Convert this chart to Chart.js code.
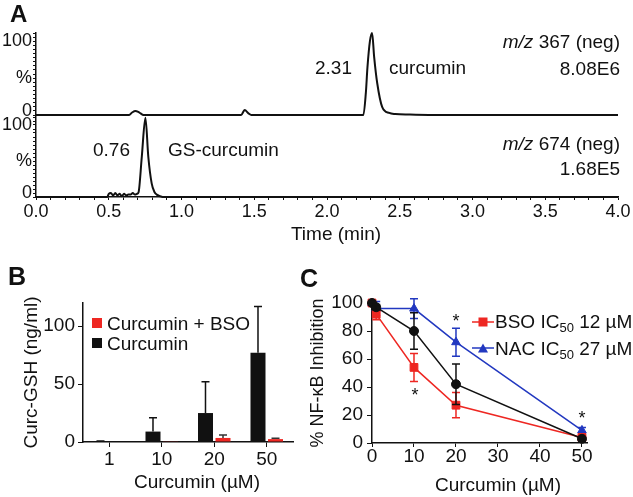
<!DOCTYPE html>
<html lang="en">
<head>
<meta charset="UTF-8">
<title>Curcumin / GS-curcumin</title>
<script src="https://cdn.jsdelivr.net/npm/chart.js"></script>
<style>
    body {
        margin: 0;
        background: #fff;
        font-family: "Liberation Sans", Arial, sans-serif;
        color: #111;
    }

    .fig {
        position: relative;
        width: 633px;
        height: 497px;
        overflow: hidden;
    }

    .fig canvas, .fig svg {
        position: absolute;
    }

    .t {
        position: absolute;
        font-size: 19px;
        line-height: 1;
        white-space: nowrap;
    }

    .c { transform: translateX(-50%); }
    .panel { font-weight: bold; font-size: 24px; }
    .sw { position: absolute; width: 10px; height: 10px; }
    .star { position: absolute; font-size: 18px; line-height: 1; transform: translateX(-50%); }
    sub { font-size: 13px; line-height: 0; vertical-align: -4px; }
</style>
</head>
<body>
<div class="fig">
    <canvas id="trace-top" width="633" height="120" style="left:0;top:0"></canvas>
    <canvas id="trace-bot" width="633" height="130" style="left:0;top:115px"></canvas>
    <canvas id="bar-b" width="305" height="242" style="left:0;top:255px"></canvas>
    <canvas id="line-c" width="328" height="242" style="left:305px;top:255px"></canvas>

    <!-- panel A labels -->
    <div class="t panel" style="left:10px;top:2px">A</div>
    <div class="t" style="right:13px;top:32px"><i>m/z</i> 367 (neg)</div>
    <div class="t" style="right:13px;top:59px">8.08E6</div>
    <div class="t" style="left:315px;top:58px">2.31</div>
    <div class="t" style="left:389px;top:58px">curcumin</div>
    <div class="t" style="right:13px;top:134px"><i>m/z</i> 674 (neg)</div>
    <div class="t" style="right:13px;top:159px">1.68E5</div>
    <div class="t" style="left:93px;top:140px">0.76</div>
    <div class="t" style="left:168px;top:140px">GS-curcumin</div>
    <div class="t c" style="left:336px;top:224px">Time (min)</div>

    <!-- panel B labels -->
    <div class="t panel" style="left:8px;top:264px;font-size:25px">B</div>
    <div class="sw" style="left:92px;top:318px;background:#ee2722"></div>
    <div class="t" style="left:107px;top:314px">Curcumin + BSO</div>
    <div class="sw" style="left:92px;top:338px;background:#111"></div>
    <div class="t" style="left:107px;top:334px">Curcumin</div>
    <div class="t c" style="left:197px;top:472px">Curcumin (µM)</div>

    <!-- panel C labels -->
    <div class="t panel" style="left:300px;top:266px;font-size:25px">C</div>
    <svg style="left:472px;top:316px" width="22" height="12">
        <line x1="0" y1="6" x2="22" y2="6" stroke="#ee2722" stroke-width="1.5"/>
        <rect x="6.5" y="1.5" width="9" height="9" fill="#ee2722"/>
    </svg>
    <div class="t" style="left:495px;top:312px">BSO IC<sub>50</sub> 12 µM</div>
    <svg style="left:472px;top:342px" width="22" height="12">
        <line x1="0" y1="6" x2="22" y2="6" stroke="#2238c0" stroke-width="1.5"/>
        <polygon points="11,1.5 16,10.5 6,10.5" fill="#2238c0"/>
    </svg>
    <div class="t" style="left:495px;top:339px">NAC IC<sub>50</sub> 27 µM</div>
    <div class="t c" style="left:498px;top:475px">Curcumin (µM)</div>
    <div class="star" style="left:456px;top:312px">*</div>
    <div class="star" style="left:415px;top:386px">*</div>
    <div class="star" style="left:582px;top:409px">*</div>
</div>

<script>
    // A: extracted ion chromatograms (time in min, intensity in %)
    const topTime = [0, 0.64, 0.66, 0.683, 0.71, 0.74, 1.41, 1.434, 1.46, 1.48, 2.25, 2.267, 2.278, 2.295, 2.31, 2.324, 2.345, 2.379, 2.428, 2.47, 2.566, 2.7, 4.0];
    const topInt  = [0, 0, 3, 5, 3, 0, 0, 6, 2, 0, 0, 27, 58, 90, 100, 71, 39, 10, 2.5, 1.2, 0.5, 0, 0];
    const botTime = [0, 0.49, 0.5, 0.515, 0.53, 0.545, 0.56, 0.575, 0.59, 0.605, 0.62, 0.635, 0.65, 0.665, 0.68, 0.695, 0.705, 0.727, 0.752, 0.772, 0.795, 0.815, 0.83, 0.853, 0.87, 4.0];
    const botInt  = [0, 0, 4, 5, 2, 5, 2, 4, 1, 4, 2, 3, 3, 5, 3, 4, 6, 50, 99, 50, 17, 6, 3, 1, 0, 0];
    const timeLabels = ['0.0', '0.5', '1.0', '1.5', '2.0', '2.5', '3.0', '3.5', '4.0'];
    const pctLabels = { 5: '0', 45: '%', 90: '100' };

    // B: Curc-GSH (ng/ml)
    const doseLabels = ['1', '10', '20', '50'];
    const curcOnly    = [0.6, 9, 25, 77];
    const curcOnlyErr = [0.3, 12, 27, 40];
    const curcBso     = [0, 0.3, 3.5, 2.5];
    const curcBsoErr  = [0, 0, 2.5, 0.8];

    // C: % NF-kB inhibition
    const doseC   = [0, 1, 10, 20, 50];
    const ctrlInh = [100, 97, 80, 42, 3];
    const ctrlErr = [1, 2, 13, 14.5, 1];
    const bsoInh  = [100, 92, 54, 27, 4];
    const bsoErr  = [1, 4, 10, 9, 1.5];
    const nacInh  = [100, 96, 96, 72, 9];
    const nacErr  = [1, 5, 7, 10, 2];

    const INK = '#111';
    const RED = '#ee2722';
    const BLUE = '#2238c0';

    Chart.defaults.font.family = '"Liberation Sans", Arial, sans-serif';
    Chart.defaults.color = INK;

    // pin the axis box sizes so chart areas land where the figure has them
    const fit = (w, h) => s => {
        if (w != null) s.width = w;
        if (h != null) s.height = h;
        s.paddingLeft = s.paddingRight = s.paddingTop = s.paddingBottom = 0;
    };
    const setTicks = vals => s => { s.ticks = vals.map(v => ({ value: v })); };
    const range = (a, b, step) => {
        const out = [];
        for (let i = 0; a + i * step <= b + 1e-9; i++) out.push(+(a + i * step).toFixed(3));
        return out;
    };

    const errorBars = {
        id: 'errorBars',
        afterDatasetDraw(chart, args) {
            const ds = chart.data.datasets[args.index];
            if (!ds.err) return;
            const ctx = chart.ctx;
            const y = chart.scales.y;
            ctx.save();
            ctx.strokeStyle = ds.errColor;
            ctx.lineWidth = 1.5;
            args.meta.data.forEach((el, i) => {
                const e = ds.err[i];
                if (!e) return;
                const raw = ds.data[i];
                const v = typeof raw === 'object' ? raw.y : raw;
                const hi = y.getPixelForValue(v + e);
                const lo = ds.errBoth ? y.getPixelForValue(v - e) : el.y;
                ctx.beginPath();
                ctx.moveTo(el.x, lo);
                ctx.lineTo(el.x, hi);
                ctx.moveTo(el.x - 4, hi);
                ctx.lineTo(el.x + 4, hi);
                if (ds.errBoth) {
                    ctx.moveTo(el.x - 4, lo);
                    ctx.lineTo(el.x + 4, lo);
                }
                ctx.stroke();
            });
            ctx.restore();
        }
    };

    const base = {
        responsive: false,
        animation: false,
        events: [],
        plugins: { legend: { display: false }, tooltip: { enabled: false } }
    };

    const axisLine = { color: INK, width: 1.5 };

    const traceY = () => ({
        min: 0,
        max: 100,
        afterFit: fit(36, null),
        afterBuildTicks: setTicks(range(0, 100, 5)),
        ticks: {
            autoSkip: false,
            padding: 1,
            font: { size: 18, lineHeight: 1 },
            callback: v => pctLabels[v] ?? ''
        },
        grid: { drawOnChartArea: false, tickLength: 3, color: INK },
        border: axisLine
    });

    const trace = (times, vals) => ({
        data: times.map((t, i) => ({ x: t, y: vals[i] })),
        borderColor: INK,
        borderWidth: 2,
        pointRadius: 0,
        cubicInterpolationMode: 'monotone',
        clip: false
    });

    new Chart(document.getElementById('trace-top'), {
        type: 'line',
        data: { datasets: [trace(topTime, topInt)] },
        options: {
            ...base,
            layout: { padding: { top: 33, bottom: 5, left: 0, right: 15 } },
            scales: {
                x: { type: 'linear', display: false, min: 0, max: 4 },
                y: traceY()
            }
        }
    });

    new Chart(document.getElementById('trace-bot'), {
        type: 'line',
        data: { datasets: [trace(botTime, botInt)] },
        options: {
            ...base,
            layout: { padding: { top: 2, bottom: 0, left: 0, right: 15 } },
            scales: {
                x: {
                    type: 'linear',
                    min: 0,
                    max: 4,
                    afterFit: fit(null, 48),
                    afterBuildTicks: setTicks(range(0, 4, 0.1)),
                    ticks: {
                        autoSkip: false,
                        minRotation: 0,
                        maxRotation: 0,
                        padding: 3.5,
                        font: { size: 18, lineHeight: 1 },
                        callback: (v, i) => (i % 5 === 0 ? timeLabels[i / 5] : '')
                    },
                    grid: { drawOnChartArea: false, tickLength: 3, color: INK },
                    border: axisLine
                },
                y: traceY()
            }
        }
    });

    new Chart(document.getElementById('bar-b'), {
        type: 'bar',
        data: {
            labels: doseLabels,
            datasets: [
                { label: 'Curcumin', data: curcOnly, err: curcOnlyErr, errColor: INK, backgroundColor: INK },
                { label: 'Curcumin + BSO', data: curcBso, err: curcBsoErr, errColor: '#333', backgroundColor: RED }
            ]
        },
        options: {
            ...base,
            datasets: { bar: { categoryPercentage: 0.667, barPercentage: 0.857 } },
            layout: { padding: { top: 48, right: 12, bottom: 0, left: 0 } },
            scales: {
                x: {
                    afterFit: fit(null, 55),
                    ticks: { padding: 3, font: { size: 19, lineHeight: 1 } },
                    grid: { offset: false, drawOnChartArea: false, tickLength: 5, color: INK },
                    border: axisLine
                },
                y: {
                    min: 0,
                    max: 120,
                    afterFit: fit(83, null),
                    afterBuildTicks: setTicks([0, 50, 100]),
                    ticks: { padding: 3, font: { size: 19, lineHeight: 1 } },
                    grid: { drawOnChartArea: false, tickLength: 5, color: INK },
                    border: axisLine,
                    title: {
                        display: true,
                        text: 'Curc-GSH (ng/ml)',
                        font: { size: 19 },
                        padding: { top: 20, bottom: 0 }
                    }
                }
            }
        },
        plugins: [errorBars]
    });

    const series = (ys, err, color, style, r) => ({
        data: doseC.map((x, i) => ({ x, y: ys[i] })),
        err,
        errBoth: true,
        errColor: color,
        borderColor: color,
        backgroundColor: color,
        borderWidth: 1.5,
        pointStyle: style,
        pointRadius: r,
        pointBorderWidth: 1,
        clip: false
    });

    new Chart(document.getElementById('line-c'), {
        type: 'line',
        data: {
            datasets: [
                series(ctrlInh, ctrlErr, INK, 'circle', 4.5),
                series(bsoInh, bsoErr, RED, 'rect', 5.5),
                series(nacInh, nacErr, BLUE, 'triangle', 5)
            ]
        },
        options: {
            ...base,
            layout: { padding: { top: 48, right: 46, bottom: 0, left: 0 } },
            scales: {
                x: {
                    type: 'linear',
                    min: 0,
                    max: 51.2,
                    afterFit: fit(null, 54),
                    afterBuildTicks: setTicks([0, 10, 20, 30, 40, 50]),
                    ticks: { padding: 0, font: { size: 19, lineHeight: 1 } },
                    grid: { drawOnChartArea: false, tickLength: 4, color: INK },
                    border: axisLine
                },
                y: {
                    min: 0,
                    max: 100,
                    afterFit: fit(67, null),
                    afterBuildTicks: setTicks([0, 20, 40, 60, 80, 100]),
                    ticks: { padding: 4, font: { size: 19, lineHeight: 1 } },
                    grid: { drawOnChartArea: false, tickLength: 5, color: INK },
                    border: axisLine,
                    title: {
                        display: true,
                        text: '% NF-κB Inhibition',
                        font: { size: 18 },
                        padding: { top: 2, bottom: 0 }
                    }
                }
            }
        },
        plugins: [errorBars]
    });
</script>
</body>
</html>
